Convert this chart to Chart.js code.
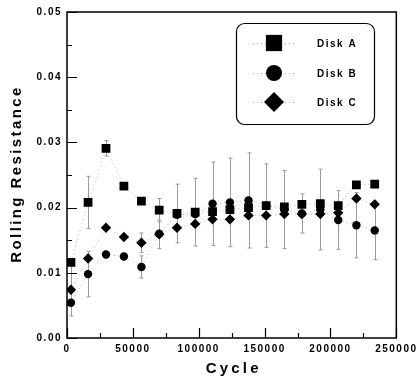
<!DOCTYPE html>
<html>
<head>
<meta charset="utf-8">
<script src="https://cdn.jsdelivr.net/npm/chart.js@4"></script>
<style>
  html, body { margin: 0; padding: 0; background: #fff; }
  #graficoDiscos { display: block; }
</style>
</head>
<body>
<canvas id="graficoDiscos" width="418" height="382"></canvas>
<script>
// datos
var ciclos = [3000, 16000, 29600, 43200, 56500, 70000, 83500, 97300, 110500, 123700, 137800, 151200, 165000, 178300, 192300, 205900, 219700, 233600];
var discoA = [0.0116, 0.0208, 0.0291, 0.0233, 0.0210, 0.0196, 0.0191, 0.0193, 0.0194, 0.0197, 0.0200, 0.0203, 0.0201, 0.0205, 0.0206, 0.0203, 0.0235, 0.0236];
var discoB = [0.0054, 0.0098, 0.0128, 0.0125, 0.0109, 0.0160, 0.0189, 0.0190, 0.0206, 0.0208, 0.0211, 0.0203, 0.0197, 0.0191, 0.0197, 0.0181, 0.0173, 0.0165];
var discoC = [0.0074, 0.0122, 0.0169, 0.0155, 0.0146, 0.0159, 0.0169, 0.0175, 0.0182, 0.0182, 0.0188, 0.0188, 0.0190, 0.0190, 0.0190, 0.0192, 0.0214, 0.0205];
// barras de error (+/-)
var errorA = [0, 0.0040, 0.0012, 0, 0, 0.0018, 0.0045, 0.0052, 0, 0, 0, 0, 0, 0, 0, 0, 0, 0];
var errorB = [0, 0.0035, 0, 0, 0.0017, 0, 0, 0, 0.0064, 0.0068, 0.0073, 0.0064, 0.0060, 0.0030, 0.0062, 0.0045, 0.0050, 0.0045];
var errorC = [0.0040, 0, 0, 0, 0.0015, 0.0022, 0, 0, 0, 0, 0, 0, 0, 0, 0, 0, 0, 0];

var nombres = ["Disk A", "Disk B", "Disk C"];
var ticksY = [0, 0.01, 0.02, 0.03, 0.04, 0.05];
var ticksX = [0, 50000, 100000, 150000, 200000, 250000];
var tituloX = "Cycle";
var tituloY = "Rolling Resistance";

var fuente = "'Liberation Sans', Arial, sans-serif";

function puntos(valores) {
  return ciclos.map(function(c, i) { return { x: c, y: valores[i] }; });
}

function serie(nombre, valores, errores, estilo, radio) {
  return {
    label: nombre,
    data: puntos(valores),
    errores: errores,
    showLine: true,
    borderColor: "rgba(0,0,0,0.28)",
    borderWidth: 1,
    borderDash: [1, 3],
    pointStyle: estilo,
    pointRadius: radio,
    pointHoverRadius: radio,
    pointBackgroundColor: "#000",
    pointBorderColor: "#000",
    pointBorderWidth: 0
  };
}

// barras de error, dibujadas con las escalas del grafico
var pluginErrores = {
  id: "errores",
  beforeDatasetsDraw: function(chart) {
    var ctx = chart.ctx;
    var sx = chart.scales.x, sy = chart.scales.y;
    ctx.save();
    ctx.strokeStyle = "#9a9a9a";
    ctx.lineWidth = 1;
    chart.data.datasets.forEach(function(ds) {
      ds.data.forEach(function(p, i) {
        var e = ds.errores[i];
        if (!e) return;
        var x = Math.round(sx.getPixelForValue(p.x)) + 0.5;
        var y1 = sy.getPixelForValue(p.y + e);
        var y2 = sy.getPixelForValue(p.y - e);
        ctx.beginPath();
        ctx.moveTo(x, y1); ctx.lineTo(x, y2);
        ctx.moveTo(x - 2, y1); ctx.lineTo(x + 2, y1);
        ctx.moveTo(x - 2, y2); ctx.lineTo(x + 2, y2);
        ctx.stroke();
      });
    });
    ctx.restore();
  }
};

// marco, marcas hacia dentro, titulos de ejes y leyenda
var pluginMarco = {
  id: "marco",
  beforeDraw: function(chart) {
    var ctx = chart.ctx;
    ctx.save();
    ctx.fillStyle = "#fff";
    ctx.fillRect(0, 0, chart.width, chart.height);
    ctx.restore();
    ctx.letterSpacing = "1.5px";
  },
  afterDraw: function(chart) {
    var ctx = chart.ctx;
    var a = chart.chartArea;
    var sx = chart.scales.x, sy = chart.scales.y;
    ctx.save();
    ctx.strokeStyle = "#000";
    ctx.lineWidth = 1.5;
    ctx.strokeRect(a.left, a.top, a.right - a.left, a.bottom - a.top);

    ctx.lineWidth = 1.2;
    ctx.beginPath();
    // marcas eje y
    for (var v = 0; v <= 0.0501; v += 0.005) {
      var y = Math.round(sy.getPixelForValue(v)) + 0.5;
      var largo = (Math.round(v * 1000) % 10 === 0) ? 10 : 5;
      ctx.moveTo(a.left, y); ctx.lineTo(a.left + largo, y);
    }
    // marcas eje x
    for (var c = 0; c <= 250000; c += 25000) {
      var x = Math.round(sx.getPixelForValue(c)) + 0.5;
      var largoX = (c % 50000 === 0) ? 10 : 5;
      ctx.moveTo(x, a.bottom); ctx.lineTo(x, a.bottom - largoX);
    }
    ctx.stroke();

    // titulos
    ctx.fillStyle = "#000";
    ctx.font = "bold 15px " + fuente;
    ctx.letterSpacing = "3.2px";
    ctx.textAlign = "center";
    ctx.textBaseline = "middle";
    ctx.fillText(tituloX, (a.left + a.right) / 2 + 2, 369);
    ctx.save();
    ctx.translate(17, (a.top + a.bottom) / 2);
    ctx.rotate(-Math.PI / 2);
    ctx.letterSpacing = "2.4px";
    ctx.fillText(tituloY, 1, 0);
    ctx.restore();

    // leyenda
    var lx = 236, ly = 23, lw = 138, lh = 101;
    ctx.lineWidth = 1.2;
    ctx.beginPath();
    ctx.roundRect(lx + 0.5, ly + 0.5, lw, lh, 8);
    ctx.fillStyle = "#fff";
    ctx.fill();
    ctx.stroke();
    var filas = [43, 73, 102];
    var radios = [11.5, 8, 10];
    ctx.font = "bold 10px " + fuente;
    ctx.letterSpacing = "1.5px";
    ctx.textAlign = "left";
    chart.data.datasets.forEach(function(ds, i) {
      var yy = filas[i];
      ctx.save();
      ctx.strokeStyle = "rgba(0,0,0,0.3)";
      ctx.lineWidth = 1;
      ctx.setLineDash([1, 3]);
      ctx.beginPath();
      ctx.moveTo(253, yy + 0.5); ctx.lineTo(296, yy + 0.5);
      ctx.stroke();
      ctx.restore();
      ctx.fillStyle = "#000";
      Chart.helpers.drawPoint(ctx, { pointStyle: ds.pointStyle, radius: radios[i], borderWidth: 0, rotation: 0 }, 274, yy);
      ctx.fillStyle = "#000";
      ctx.fillText(ds.label, 317, yy + 1);
    });
    ctx.restore();
  }
};

var grafico = new Chart(document.getElementById("graficoDiscos").getContext("2d"), {
  type: "scatter",
  data: {
    datasets: [
      serie(nombres[0], discoA, errorA, "rect", 6.2),
      serie(nombres[1], discoB, errorB, "circle", 4.2),
      serie(nombres[2], discoC, errorC, "rectRot", 5.2)
    ]
  },
  options: {
    responsive: false,
    animation: false,
    devicePixelRatio: 1,
    layout: { padding: { top: 12, right: 20, left: 0, bottom: 0 } },
    plugins: {
      legend: { display: false },
      tooltip: { enabled: false }
    },
    scales: {
      x: {
        type: "linear",
        min: 0,
        max: 250000,
        afterBuildTicks: function(s) { s.ticks = ticksX.map(function(v) { return { value: v }; }); },
        afterFit: function(s) { s.height = 44; },
        grid: { display: false, drawTicks: false },
        border: { display: false },
        ticks: {
          padding: 5,
          color: "#000",
          maxRotation: 0,
          font: { family: fuente, size: 10, weight: "bold" },
          callback: function(v) { return String(v); }
        }
      },
      y: {
        min: 0,
        max: 0.05,
        afterBuildTicks: function(s) { s.ticks = ticksY.map(function(v) { return { value: v }; }); },
        afterFit: function(s) { s.width = 67; },
        grid: { display: false, drawTicks: false },
        border: { display: false },
        ticks: {
          padding: 5,
          color: "#000",
          font: { family: fuente, size: 10, weight: "bold" },
          callback: function(v) { return v.toFixed(2); }
        }
      }
    }
  },
  plugins: [pluginErrores, pluginMarco]
});
</script>
</body>
</html>
